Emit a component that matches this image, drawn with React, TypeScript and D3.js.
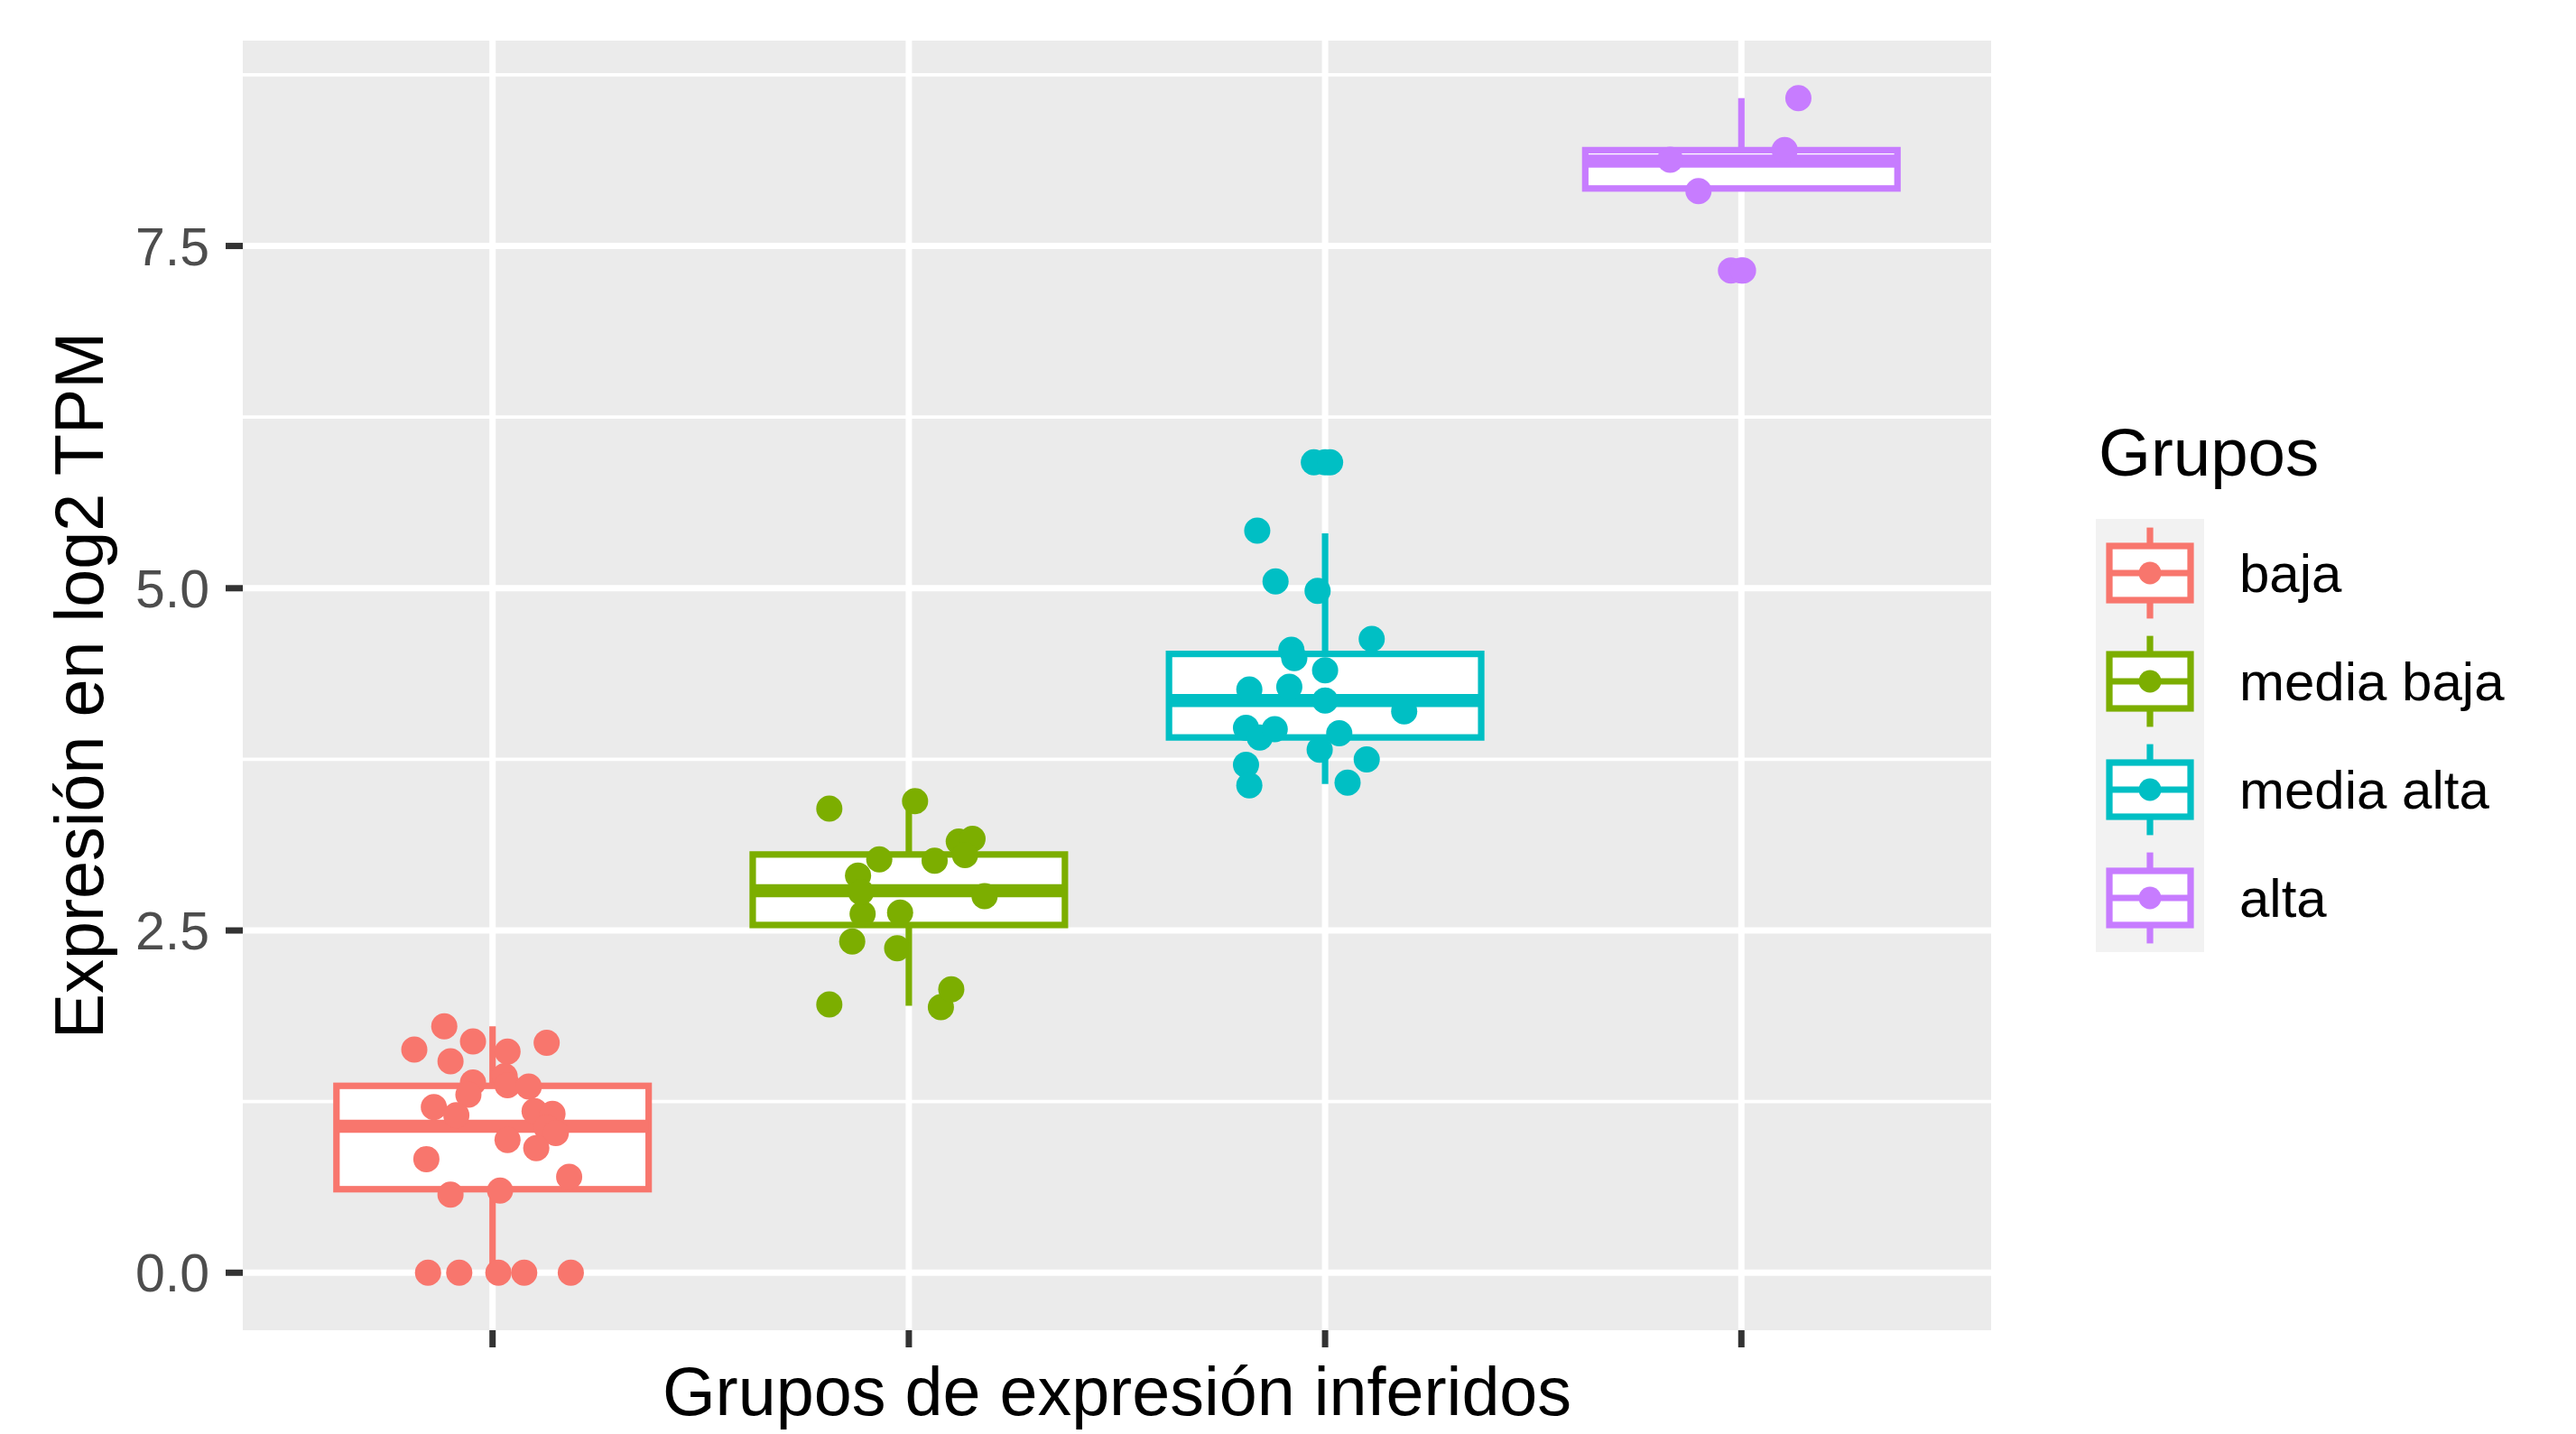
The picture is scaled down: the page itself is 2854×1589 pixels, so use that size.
import React from 'react';
import * as d3 from 'd3';

// ---------- data ----------
const categories = ['baja', 'media baja', 'media alta', 'alta'];
const groupColors = ['#F8766D', '#7CAE00', '#00BFC4', '#C77CFF'];

// boxplot statistics
const boxLower = [0.61, 2.54, 3.91, 7.92];
const boxMedian = [1.07, 2.79, 4.18, 8.12];
const boxUpper = [1.365, 3.055, 4.52, 8.2];
const whiskerLow = [0, 1.95, 3.57, 7.92];
const whiskerHigh = [1.8, 3.445, 5.4, 8.58];
const outliersMediaAlta = [5.92];
const outliersAlta = [7.32];
const outliers = [[], [], outliersMediaAlta, outliersAlta];

// jittered points: values and horizontal jitter (category units)
const bajaValues = [1.8, 1.63, 1.69, 1.68, 1.545, 1.615, 1.39, 1.435, 1.37, 1.36, 1.3, 1.21, 1.15, 1.18, 1.16, 1.06, 1.02, 0.97, 0.91, 0.83, 0.7, 0.57, 0.6, 0, 0, 0, 0, 0];
const bajaJitter = [-0.116, -0.188, -0.047, 0.13, -0.101, 0.036, -0.047, 0.029, 0.036, 0.087, -0.058, -0.141, -0.087, 0.101, 0.144, 0.13, 0.152, 0.036, 0.105, -0.159, 0.184, -0.101, 0.018, -0.155, -0.08, 0.014, 0.076, 0.188];

const mediaBajaValues = [3.39, 3.445, 3.15, 3.17, 3.05, 3.02, 3.01, 2.9, 2.75, 2.62, 2.63, 2.42, 2.37, 1.96, 1.94, 2.07, 2.78];
const mediaBajaJitter = [-0.191, 0.015, 0.12, 0.153, 0.135, -0.071, 0.062, -0.122, 0.182, -0.111, -0.021, -0.136, -0.028, -0.191, 0.077, 0.102, -0.115];

const mediaAltaValues = [5.92, 5.92, 5.42, 5.05, 4.98, 4.63, 4.55, 4.49, 4.4, 4.26, 4.28, 4.18, 4.1, 3.98, 3.91, 3.97, 3.94, 3.82, 3.75, 3.71, 3.56, 3.58];
const mediaAltaJitter = [-0.027, 0.012, -0.163, -0.119, -0.018, 0.112, -0.081, -0.074, 0.0, -0.182, -0.086, 0.0, 0.19, -0.19, -0.157, -0.121, 0.034, -0.013, 0.1, -0.19, -0.182, 0.054];

const altaValues = [8.58, 8.2, 8.13, 7.9, 7.32, 7.32];
const altaJitter = [0.137, 0.104, -0.171, -0.103, -0.025, 0.004];

const pointValues = [bajaValues, mediaBajaValues, mediaAltaValues, altaValues];
const pointJitter = [bajaJitter, mediaBajaJitter, mediaAltaJitter, altaJitter];

const yMajorTicks = [0, 2.5, 5, 7.5];
const yTickLabels = ['0.0', '2.5', '5.0', '7.5'];
const yMinorTicks = [1.25, 3.75, 6.25, 8.75];

const yTitle = 'Expresión en log2 TPM';
const xTitle = 'Grupos de expresión inferidos';
const legendTitle = 'Grupos';

// ---------- layout ----------
const W = 2854;
const H = 1589;
const panel = { left: 269, right: 2206, top: 45, bottom: 1474 };
const FONT = "'Liberation Sans', Arial, Helvetica, sans-serif";
const LW = 7.2;
const PR = 14.5;

export default function App() {
  const x = d3.scaleLinear().domain([-0.6, 3.6]).range([panel.left, panel.right]);
  const y = d3.scaleLinear().domain([-0.42, 9.0]).range([panel.bottom, panel.top]);
  const boxHalf = 0.375;

  const legendX = 2382;
  const legendY0 = 635;
  const legendStep = 120;

  return (
    <svg width={W} height={H} style={{ position: 'absolute', left: 0, top: 0, background: '#fff' }}>
      <rect x={0} y={0} width={W} height={H} fill="#ffffff" />
      {/* panel */}
      <rect x={panel.left} y={panel.top} width={panel.right - panel.left} height={panel.bottom - panel.top} fill="#EBEBEB" />
      {yMinorTicks.map((t) => (
        <line key={'mn' + t} x1={panel.left} x2={panel.right} y1={y(t)} y2={y(t)} stroke="#fff" strokeWidth={3.6} />
      ))}
      {yMajorTicks.map((t) => (
        <line key={'mj' + t} x1={panel.left} x2={panel.right} y1={y(t)} y2={y(t)} stroke="#fff" strokeWidth={7} />
      ))}
      {categories.map((c, i) => (
        <line key={'vx' + c} x1={x(i)} x2={x(i)} y1={panel.top} y2={panel.bottom} stroke="#fff" strokeWidth={7} />
      ))}

      {/* boxplots */}
      {categories.map((c, i) => {
        const col = groupColors[i];
        const x0 = x(i - boxHalf);
        const x1 = x(i + boxHalf);
        return (
          <g key={'box' + c}>
            <line x1={x(i)} x2={x(i)} y1={y(boxUpper[i])} y2={y(whiskerHigh[i])} stroke={col} strokeWidth={LW} />
            <line x1={x(i)} x2={x(i)} y1={y(boxLower[i])} y2={y(whiskerLow[i])} stroke={col} strokeWidth={LW} />
            <rect x={x0} y={y(boxUpper[i])} width={x1 - x0} height={y(boxLower[i]) - y(boxUpper[i])} fill="#fff" stroke={col} strokeWidth={LW} />
            <line x1={x0} x2={x1} y1={y(boxMedian[i])} y2={y(boxMedian[i])} stroke={col} strokeWidth={LW * 2} />
            {outliers[i].map((v, k) => (
              <circle key={k} cx={x(i)} cy={y(v)} r={PR} fill={col} />
            ))}
          </g>
        );
      })}

      {/* jittered points */}
      {categories.map((c, i) => (
        <g key={'pts' + c} fill={groupColors[i]}>
          {pointValues[i].map((v, k) => (
            <circle key={k} cx={x(i + pointJitter[i][k])} cy={y(v)} r={PR} />
          ))}
        </g>
      ))}

      {/* y axis */}
      {yMajorTicks.map((t, k) => (
        <g key={'yt' + t}>
          <line x1={250} x2={panel.left} y1={y(t)} y2={y(t)} stroke="#333333" strokeWidth={7} />
          <text x={232} y={y(t) + 21} textAnchor="end" fontFamily={FONT} fontSize={59} fill="#4D4D4D">
            {yTickLabels[k]}
          </text>
        </g>
      ))}
      {/* x axis ticks */}
      {categories.map((c, i) => (
        <line key={'xt' + c} x1={x(i)} x2={x(i)} y1={panel.bottom} y2={panel.bottom + 19} stroke="#333333" strokeWidth={7} />
      ))}

      {/* titles */}
      <text transform={`translate(114, ${(panel.top + panel.bottom) / 2}) rotate(-90)`} textAnchor="middle" fontFamily={FONT} fontSize={75.5} fill="#000">
        {yTitle}
      </text>
      <text x={(panel.left + panel.right) / 2} y={1568} textAnchor="middle" fontFamily={FONT} fontSize={75.5} fill="#000">
        {xTitle}
      </text>

      {/* legend */}
      <text x={2325} y={527} fontFamily={FONT} fontSize={74.5} fill="#000">
        {legendTitle}
      </text>
      {categories.map((c, i) => {
        const cy = legendY0 + i * legendStep;
        const col = groupColors[i];
        const half = legendStep / 2;
        return (
          <g key={'lg' + c}>
            <rect x={legendX - half} y={cy - half} width={legendStep} height={legendStep} fill="#F2F2F2" />
            <line x1={legendX} x2={legendX} y1={cy - 0.42 * legendStep} y2={cy - 0.25 * legendStep} stroke={col} strokeWidth={LW} />
            <line x1={legendX} x2={legendX} y1={cy + 0.25 * legendStep} y2={cy + 0.42 * legendStep} stroke={col} strokeWidth={LW} />
            <rect x={legendX - 0.375 * legendStep} y={cy - 0.25 * legendStep} width={0.75 * legendStep} height={0.5 * legendStep} fill="#fff" stroke={col} strokeWidth={LW} />
            <line x1={legendX - 0.375 * legendStep} x2={legendX + 0.375 * legendStep} y1={cy} y2={cy} stroke={col} strokeWidth={LW} />
            <circle cx={legendX} cy={cy} r={12.5} fill={col} />
            <text x={2481} y={cy + 21} fontFamily={FONT} fontSize={60} fill="#000">
              {c}
            </text>
          </g>
        );
      })}
    </svg>
  );
}
